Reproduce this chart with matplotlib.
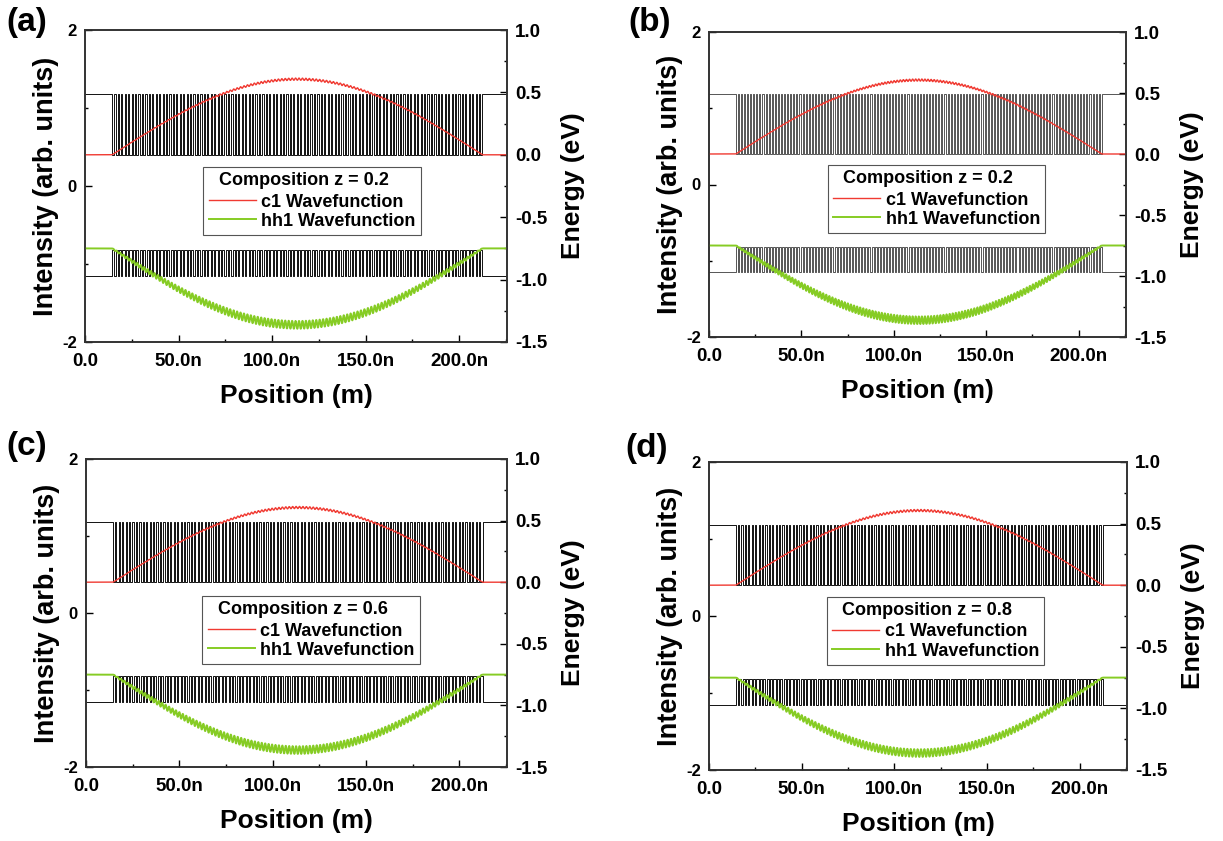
import numpy as np
import matplotlib
matplotlib.use('Agg')
import matplotlib.pyplot as plt
from matplotlib.lines import Line2D
from matplotlib.ticker import FuncFormatter, MultipleLocator

plt.rcParams['font.family'] = ['Liberation Sans', 'DejaVu Sans']
plt.rcParams['font.weight'] = 'bold'

# ---- values ----
panel_labels = ['(a)', '(b)', '(c)', '(d)']
compositions = [0.2, 0.2, 0.6, 0.8]
sl_start = [14.5, 14.5, 14.5, 14.5]      # nm, start of superlattice
sl_end = [212.5, 212.5, 212.5, 212.5]    # nm, end of superlattice
n_periods = [107, 118, 107, 107]
barrier_frac = [0.35, 0.35, 0.35, 0.35]
profile_color = ['#111111', '#555555', '#111111', '#111111']

# band edges (eV, right axis)
cb_barrier, cb_well = 0.49, 0.0
vb_barrier, vb_well = -0.97, -0.76
# wavefunctions (left axis)
c1_base, c1_peak = 0.40, 1.37
hh1_base, hh1_peak = -0.80, -1.78
c1_ripple, hh1_ripple = 0.014, 0.05

x_max = 225.6

# layout in pixels (left, right, top, bottom)
W, H = 1223, 841
boxes = [(85, 507, 30, 342), (709, 1126, 32, 337),
         (86, 507, 459, 767), (709, 1127, 462, 770)]
label_pos = [(6, 22), (628, 22), (6, 447), (625, 448)]
leg_anchor = [(0.28, 0.561), (0.285, 0.564), (0.276, 0.555), (0.282, 0.562)]

red = '#f03a32'
green = '#86cc24'


def band_profile(s, e, n, frac, hi, lo):
    """step profile: outside = hi, wells = lo, thin barriers = hi"""
    p = (e - s) / (n + (1 - frac))
    w = (1 - frac) * p
    xs = [0, s, s]
    ys = [hi, hi, lo]
    for k in range(n):
        b0 = s + w + k * p
        b1 = s + (k + 1) * p
        xs += [b0, b0, b1, b1]
        ys += [lo, hi, hi, lo]
    xs += [e, e, x_max]
    ys += [lo, hi, hi]
    return np.array(xs), np.array(ys), p, w


fig = plt.figure(figsize=(W / 100, H / 100), dpi=100)

for i in range(4):
    l, r, t, b = boxes[i]
    ax = fig.add_axes([l / W, (H - b) / H, (r - l) / W, (b - t) / H])
    ax2 = ax.twinx()
    ax.set_zorder(ax2.get_zorder() + 1)
    ax.patch.set_visible(False)

    s, e = sl_start[i], sl_end[i]
    xc, yc, p, w = band_profile(s, e, n_periods[i], barrier_frac[i], cb_barrier, cb_well)
    xv, yv, _, _ = band_profile(s, e, n_periods[i], barrier_frac[i], vb_barrier, vb_well)
    ax2.plot(xc, yc, color=profile_color[i], lw=0.7)
    ax2.plot(xv, yv, color=profile_color[i], lw=0.7)

    x = np.linspace(0, x_max, 6000)
    env = np.where((x > s) & (x < e), np.sin(np.pi * (x - s) / (e - s)), 0.0)
    rip = np.cos(2 * np.pi * (x - s - w / 2) / p)
    c1 = c1_base + (c1_peak - c1_base) * env + c1_ripple * env * rip
    hh1 = hh1_base + (hh1_peak - hh1_base) * env + hh1_ripple * np.sqrt(env) * rip
    ax.plot(x, c1, color=red, lw=1.0)
    ax.plot(x, hh1, color=green, lw=1.4)

    ax.set_xlim(0, x_max)
    ax.set_ylim(-2, 2)
    ax2.set_ylim(-1.5, 1.0)

    ax.xaxis.set_major_locator(MultipleLocator(50))
    ax.xaxis.set_minor_locator(MultipleLocator(25))
    ax.xaxis.set_major_formatter(FuncFormatter(lambda v, pos: '0.0' if v == 0 else '%.1fn' % v))
    ax.yaxis.set_major_locator(MultipleLocator(2))
    ax.yaxis.set_minor_locator(MultipleLocator(1))
    ax.yaxis.set_major_formatter(FuncFormatter(lambda v, pos: '%d' % v))
    ax2.yaxis.set_major_locator(MultipleLocator(0.5))
    ax2.yaxis.set_minor_locator(MultipleLocator(0.25))
    ax2.yaxis.set_major_formatter(FuncFormatter(lambda v, pos: '%.1f' % v))

    ax.tick_params(axis='x', which='both', direction='in', top=False, labelsize=13.5, pad=8)
    ax.tick_params(axis='y', which='both', direction='in', right=False, labelsize=12, pad=6)
    ax2.tick_params(axis='y', which='both', direction='in', labelsize=13.5, pad=6)
    for a in (ax, ax2):
        a.tick_params(which='major', length=5, width=1)
        a.tick_params(which='minor', length=2.5, width=1)
        for sp in a.spines.values():
            sp.set_linewidth(1.2)
            sp.set_color('#333333')

    ax.set_xlabel('Position (m)', fontsize=19, fontweight='bold', labelpad=10)
    ax.set_ylabel('Intensity (arb. units)', fontsize=19.5, fontweight='bold', labelpad=2)
    ax2.set_ylabel('Energy (eV)', fontsize=19, fontweight='bold', labelpad=10)

    handles = [Line2D([], [], color=red, lw=1.0), Line2D([], [], color=green, lw=1.4)]
    leg = ax.legend(handles, ['c1 Wavefunction', 'hh1 Wavefunction'],
                    title='  Composition z = %.1f' % compositions[i], alignment='left',
                    title_fontproperties={'weight': 'bold', 'size': 13},
                    loc='upper left', bbox_to_anchor=leg_anchor[i], borderaxespad=0,
                    fontsize=13, frameon=True, fancybox=False, framealpha=1,
                    edgecolor='#555555', handlelength=2.6, handletextpad=0.3,
                    borderpad=0.3, labelspacing=0.12)
    leg.get_frame().set_linewidth(0.8)
    leg._legend_box.sep = 3

    lx, ly = label_pos[i]
    fig.text(lx / W, 1 - ly / H, panel_labels[i], fontsize=24, fontweight='bold', va='center', ha='left')

fig.savefig('out.png', dpi=100)
